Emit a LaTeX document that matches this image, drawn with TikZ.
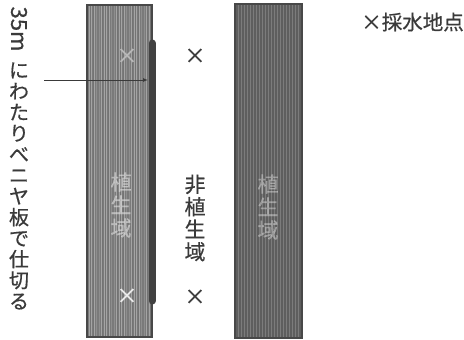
\documentclass[tikz,border=0pt]{standalone}
\usepackage{fontspec}
\newfontfamily\jp[FakeBold=0.6]{Noto Sans CJK JP}
\usetikzlibrary{arrows.meta}
\definecolor{stripL}{HTML}{7A7A7A}
\definecolor{stripR}{HTML}{5E5E5E}
\definecolor{edge}{HTML}{484848}
\definecolor{txt}{HTML}{3A3A3A}
\begin{document}
\begin{tikzpicture}[x=1pt,y=-1pt,
  stripbox/.style={draw=edge,line width=1.2pt},
  vtext/.style={font=\jp\fontsize{20}{21}\selectfont,text=txt,align=center,inner sep=0pt},
  intext/.style={font=\jp\fontsize{21}{23}\selectfont,text=white!75!gray,align=center,inner sep=0pt,opacity=0.6},
  xmark/.style={font=\jp\fontsize{21}{21}\selectfont,text=txt,inner sep=0pt},
  board/.style={line width=7pt,draw=edge!90!black,line cap=round}]
\useasboundingbox (0,0) rectangle (464,340);
% left strip
\fill[stripL] (87,5) rectangle (152,337);
\foreach \x in {89,91.5,...,151}{\draw[white!70!gray,line width=0.5pt,opacity=0.45] (\x,6) -- (\x,336);}
\foreach \x in {90,93,...,151}{\draw[black!60,line width=0.4pt,opacity=0.35] (\x,6) -- (\x,336);}
\draw[stripbox] (87,5) rectangle (152,337);
\node[intext] (lbl1) at (121,205) {植\\生\\域};
% right strip
\fill[stripR] (235,4) rectangle (302,338);
\foreach \x in {238,241,...,300}{\draw[white!70!gray,line width=0.5pt,opacity=0.25] (\x,5) -- (\x,337);}
\draw[stripbox] (235,4) rectangle (302,338);
\node[intext,opacity=0.45] (lbl2) at (268,207) {植\\生\\域};
% board
\coordinate (bt) at (152,43);
\coordinate (bb) at (152,301);
\draw[board] (bt) -- (bb);
% sampling marks
\node[xmark,text=gray!55] (m1) at (127,56) {×};
\node[xmark,text=white!85!gray] (m2) at (127,296) {×};
\node[xmark] (m3) at (195,56) {×};
\node[xmark] (m4) at (195,297) {×};
% middle label
\node[vtext,font=\jp\fontsize{21}{22.5}\selectfont] (mid) at (195,218) {非\\植\\生\\域};
% left label
\node[vtext,font=\jp\fontsize{22}{22}\selectfont,rotate=-90] (len) at (19,29) {35m};
\node[vtext,anchor=center] (left) at (19,186) {に\\わ\\た\\り\\べ\\ニ\\ヤ\\板\\で\\仕\\切\\る};
\coordinate (as) at (44,80);
\coordinate (ae) at (148,80);
\draw[txt,line width=1pt,-{Latex[length=5pt,width=4pt]}] (as) -- (ae);
% legend
\node[font=\jp\fontsize{20.5}{20.5}\selectfont,text=txt,anchor=east,inner sep=0pt] (leg) at (464,22) {×採水地点};
\end{tikzpicture}
\end{document}
